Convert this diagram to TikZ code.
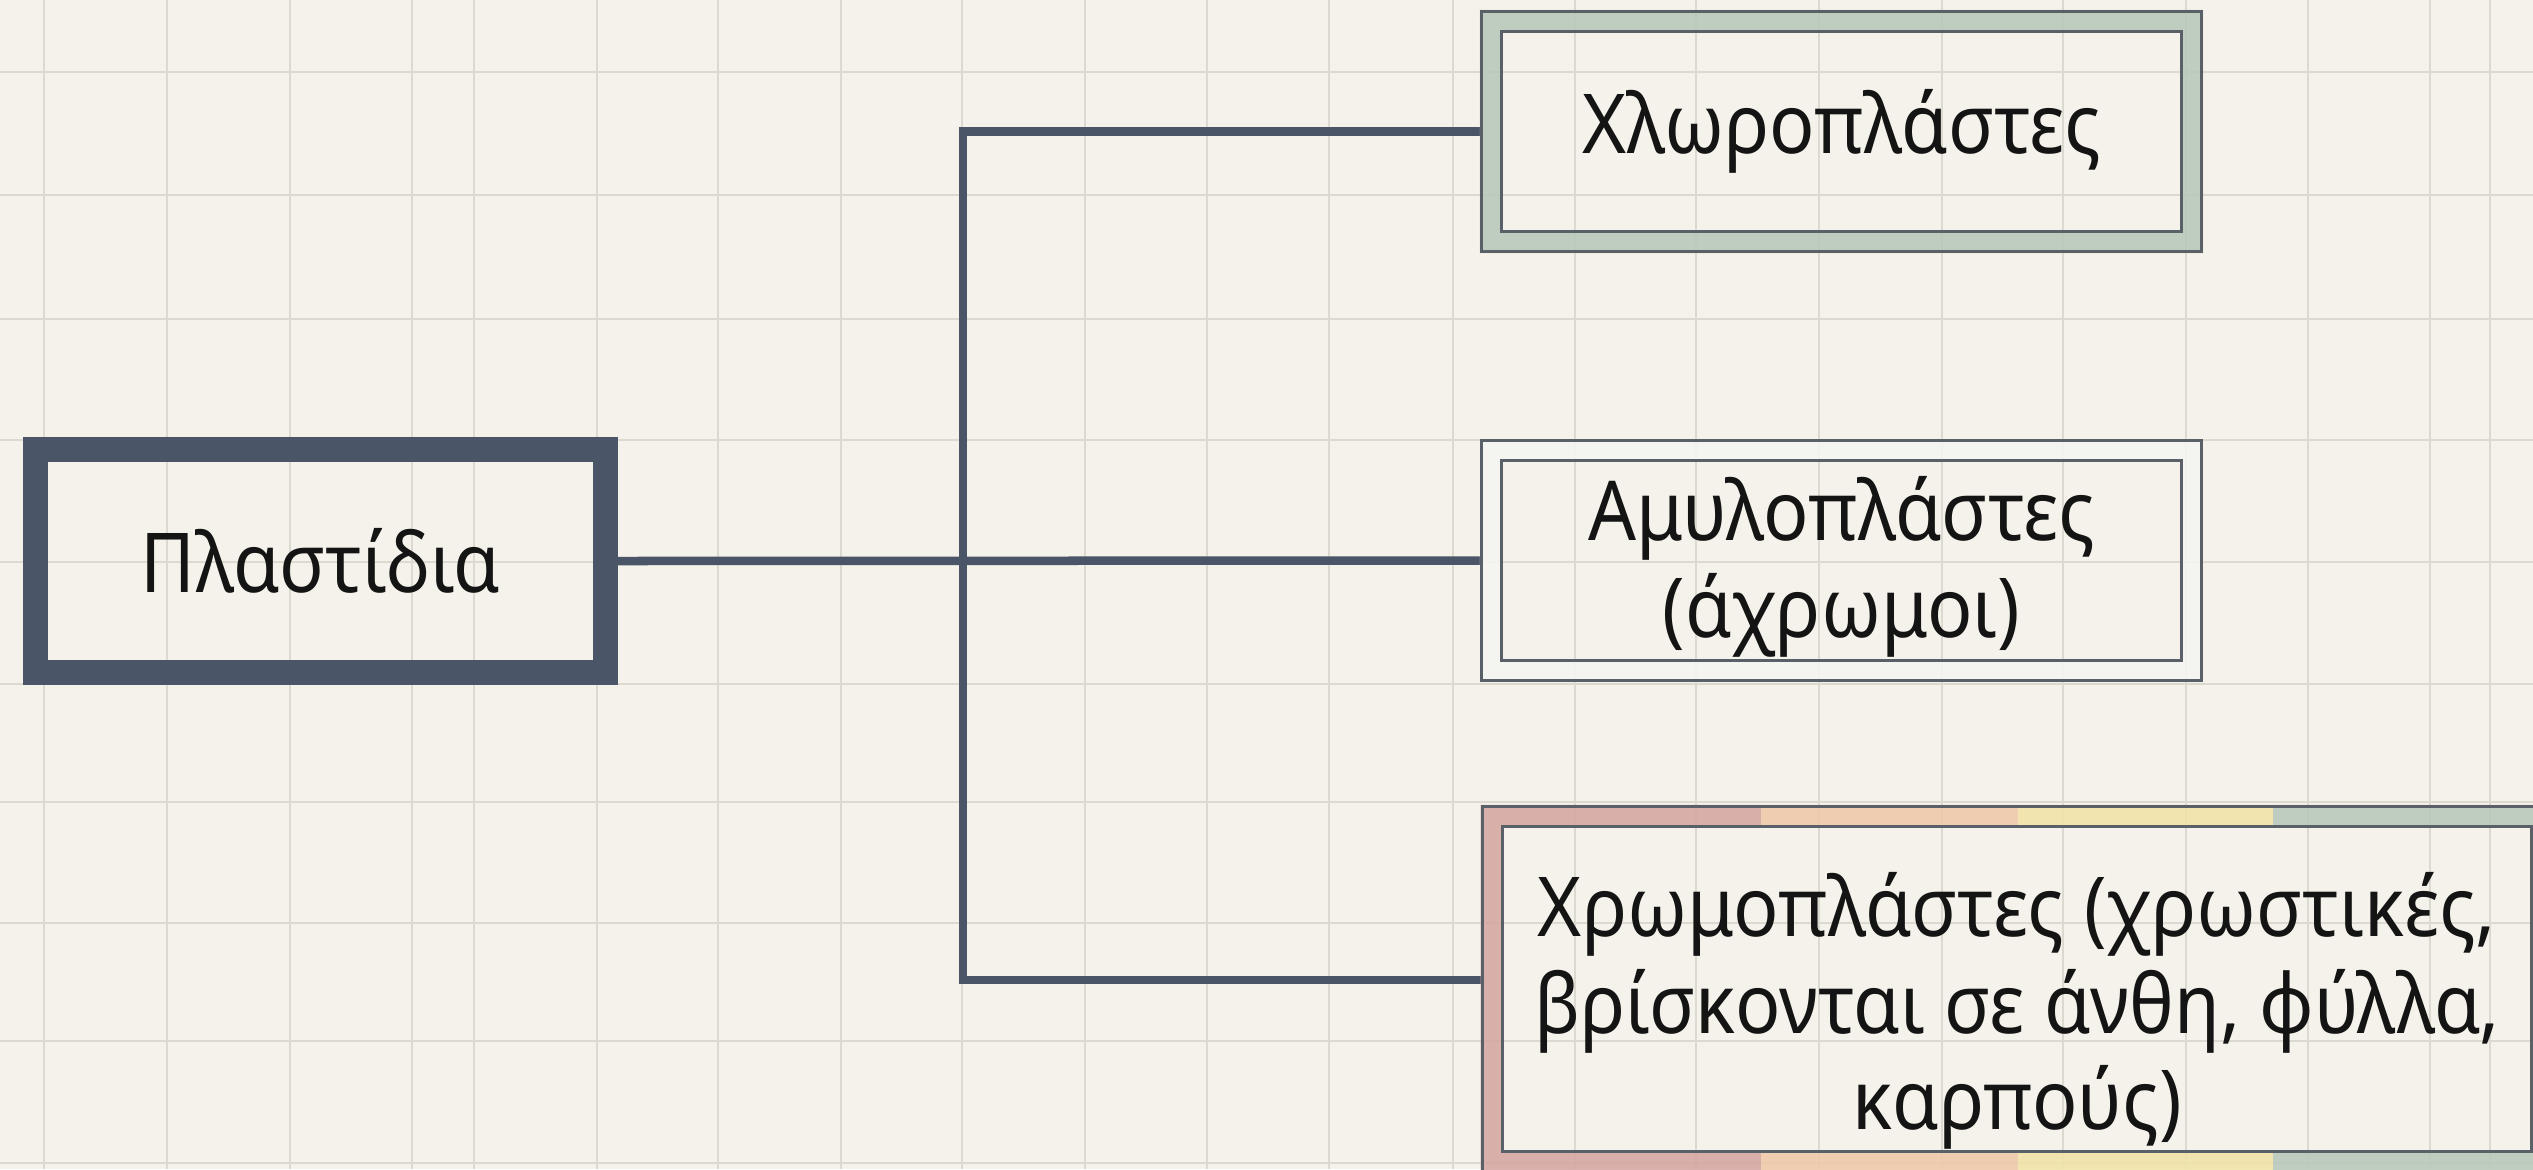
\documentclass[tikz,border=0pt]{standalone}
\usepackage{fontspec}
\setmainfont{Noto Sans}[FakeStretch=0.91]
\usetikzlibrary{calc}

\definecolor{paper}{HTML}{F4F2EA}
\definecolor{gridline}{HTML}{DCD9D1}
\definecolor{slate}{HTML}{4A5567}
\definecolor{frameline}{HTML}{596068}
\definecolor{sage}{HTML}{B9C9BB}
\definecolor{pale}{HTML}{F4F5F2}
\definecolor{rose}{HTML}{D6A8A3}
\definecolor{peach}{HTML}{EEC9AA}
\definecolor{straw}{HTML}{F1E3A8}
\definecolor{ink}{HTML}{141414}

% band of a framed box: coloured ring between a thin outer and a thin inner line
\newcommand\ringframe[2]{%
  \fill[#2, fill opacity=0.9, even odd rule] (#1.north west) rectangle (#1.south east)
    ([shift={(22,22)}]#1.north west) rectangle ([shift={(-22,-22)}]#1.south east);
  \draw[frameline, line width=0.03cm]
    ([shift={(1.5,1.5)}]#1.north west) rectangle ([shift={(-1.5,-1.5)}]#1.south east)
    ([shift={(22,22)}]#1.north west) rectangle ([shift={(-22,-22)}]#1.south east);
}

\begin{document}
\begin{tikzpicture}[x=0.01cm, y=-0.01cm,
  box/.style={rectangle, inner sep=0pt, outer sep=0pt, align=center,
    text=ink, font=\fontsize{23.5}{27.5}\selectfont},
  link/.style={draw=slate, line width=0.085cm, line join=miter},
  gridrule/.style={draw=gridline, line width=0.025cm}]

\useasboundingbox (0,0) rectangle (2533,1169);
\fill[paper] (0,0) rectangle (2533,1169);

% squared paper
\foreach \gx in {44,167,290,412,474,597,718,841,962,1085,1207,1329,1453,1575,1696,1819,1942,2063,2186,2308,2430,2490}
  \draw[gridrule] (\gx,0) -- (\gx,1169);
\foreach \gy in {72,195,319,440,562,684,802,923,1041,1163}
  \draw[gridrule] (0,\gy) -- (2533,\gy);

% boxes
\node[box, minimum width=5.95cm, minimum height=2.48cm] (root) at (320.5,561) {Πλαστίδια};
\node[box, minimum width=7.23cm, minimum height=2.43cm] (chloro) at (1841.5,131.5) {Χλωροπλάστες};
\node[box, minimum width=7.23cm, minimum height=2.43cm] (amylo) at (1841.5,560.5) {};
\node[box, minimum width=10.72cm, minimum height=3.68cm] (chromo) at (2017,989) {};

% tree connectors
\coordinate (trunk) at (963,561);
\draw[link] (root.east) -- (amylo.west);
\draw[link] (chloro.west) -| (trunk) |- ($(chromo.west)+(0,-9)$);

% frames
\draw[slate, line width=0.25cm]
  ([shift={(12.5,12.5)}]root.north west) rectangle ([shift={(-12.5,-12.5)}]root.south east);
\ringframe{chloro}{sage}
\ringframe{amylo}{pale}

\begin{scope}[even odd rule]
  \clip (chromo.north west) rectangle (chromo.south east)
    ([shift={(22,22)}]chromo.north west) rectangle ([shift={(-22,-22)}]chromo.south east);
  \begin{scope}[fill opacity=0.9]
    \fill[rose]  (1470,790) rectangle (1761,1190);
    \fill[peach] (1761,790) rectangle (2018,1190);
    \fill[straw] (2018,790) rectangle (2273,1190);
    \fill[sage]  (2273,790) rectangle (2570,1190);
  \end{scope}
\end{scope}
\draw[frameline, line width=0.03cm]
  ([shift={(1.5,1.5)}]chromo.north west) rectangle ([shift={(-1.5,-1.5)}]chromo.south east)
  ([shift={(22,22)}]chromo.north west) rectangle ([shift={(-22,-22)}]chromo.south east);

% labels of the two-line and three-line boxes
\node[box] (amylotext) at ($(amylo.center)+(0,6)$) {Αμυλοπλάστες\\(άχρωμοι)};
\node[box] (chromotext) at ($(chromo.center)+(0,22)$)
  {Χρωμοπλάστες (χρωστικές,\\βρίσκονται σε άνθη, φύλλα,\\καρπούς)};

\end{tikzpicture}
\end{document}
